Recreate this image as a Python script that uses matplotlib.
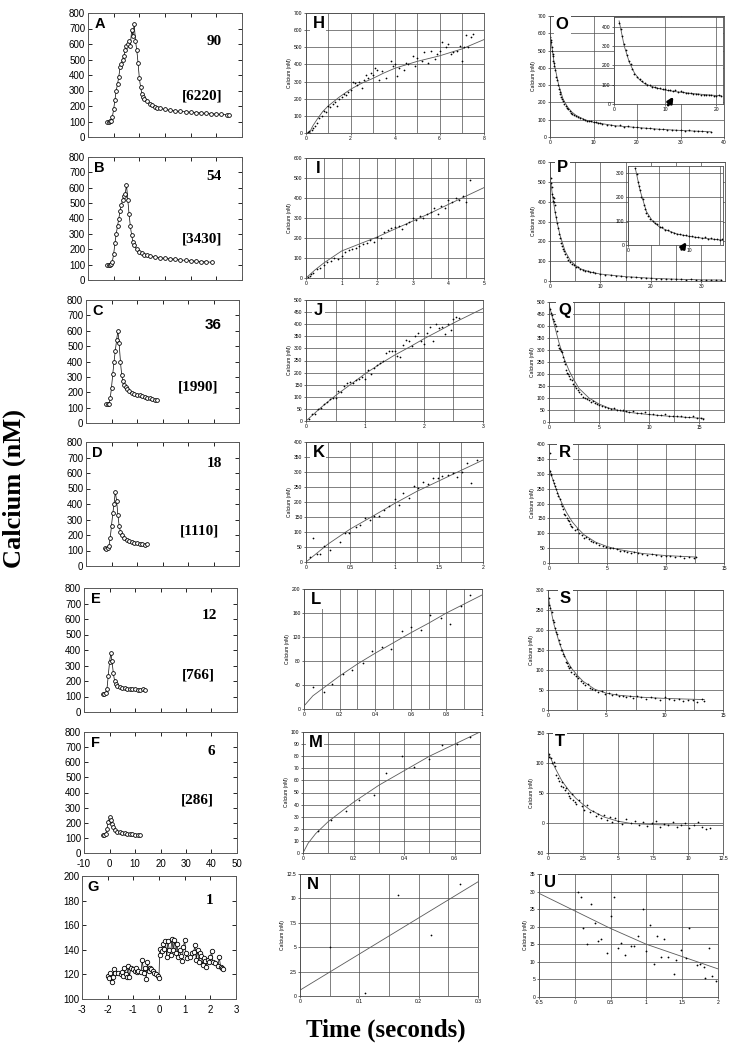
# -*- coding: utf-8 -*-
"""
Figura: transientes de cálcio (A-G), subida (H-N) e decaimento (O-U)
"""

import matplotlib
matplotlib.use('Agg')
import matplotlib.pyplot as plt
from matplotlib.ticker import MultipleLocator, FuncFormatter

plt.rcParams['font.family'] = ['Liberation Sans', 'DejaVu Sans']


##############################################################################
""" Dados - coluna da esquerda (A-G) """
A_x = [-2.5, -2, -1.5, -1, -0.5, 0, 0.5, 1, 1.5, 2, 2.5, 3, 3.5, 4, 4.5, 5, 5.5,
       6, 6.5, 7, 7.5, 8, 8.5, 9, 9.5, 10, 10.5, 11, 11.5, 12, 13, 14, 15, 16,
       17, 18, 20, 22, 24, 26, 28, 30, 32, 34, 36, 38, 40, 42, 44, 45]
A_y = [100, 100, 102, 105, 130, 180, 240, 300, 340, 390, 450, 470, 500, 520,
       560, 590, 600, 620, 590, 690, 650, 730, 620, 560, 480, 380, 320, 280,
       260, 245, 230, 215, 205, 195, 190, 185, 178, 172, 168, 165, 163, 160,
       158, 155, 152, 150, 148, 146, 143, 140]

B_x = [-2.5, -2, -1.5, -1, -0.5, 0, 0.5, 1, 1.5, 2, 2.5, 3, 3.5, 4, 4.5, 5,
       5.5, 6, 6.5, 7, 7.5, 8, 9, 10, 11, 12, 13, 14, 16, 18, 20, 22, 24, 26,
       28, 30, 32, 34, 36, 38.5]
B_y = [100, 98, 100, 105, 120, 170, 240, 300, 350, 400, 450, 490, 520, 545,
       560, 620, 520, 430, 350, 290, 250, 225, 200, 185, 175, 165, 160, 155,
       150, 145, 140, 138, 135, 130, 128, 125, 122, 120, 118, 115]

C_x = [-2, -1.5, -1, -0.5, 0, 0.5, 1, 1.5, 2, 2.5, 3, 3.5, 4, 4.5, 5, 5.5, 6,
       7, 8, 9, 10, 11, 12, 13, 14, 15, 16, 17, 18]
C_y = [125, 122, 125, 160, 230, 320, 400, 470, 540, 600, 520, 400, 310, 270,
       250, 235, 220, 205, 195, 190, 185, 180, 175, 170, 165, 160, 158, 152, 148]

D_x = [-2.5, -2, -1.5, -1, -0.5, 0, 0.5, 1, 1.5, 2, 2.5, 3, 3.5, 4, 5, 6, 7,
       8, 9, 10, 11, 12, 13, 14]
D_y = [115, 112, 115, 130, 180, 260, 340, 400, 480, 420, 330, 260, 220, 200,
       180, 168, 160, 155, 150, 147, 143, 140, 138, 140]

E_x = [-2.5, -2, -1.5, -1, -0.5, 0, 0.5, 1, 1.5, 2, 2.5, 3, 4, 5, 6, 7, 8, 9,
       10, 11, 12, 13, 14]
E_y = [118, 115, 120, 150, 230, 320, 380, 330, 250, 200, 180, 170, 160, 155,
       152, 150, 148, 150, 147, 145, 140, 148, 145]

F_x = [-2.5, -2, -1.5, -1, -0.5, 0, 0.5, 1, 1.5, 2, 3, 4, 5, 6, 7, 8, 9, 10,
       11, 12]
F_y = [120, 118, 125, 160, 205, 235, 215, 190, 170, 155, 142, 136, 132, 130,
       128, 125, 124, 122, 120, 118]

G_x = [-2.0, -1.95, -1.9, -1.85, -1.8, -1.75, -1.7, -1.6, -1.5, -1.45, -1.4,
       -1.35, -1.3, -1.25, -1.2, -1.15, -1.1, -1.0, -0.95, -0.9, -0.85, -0.8,
       -0.7, -0.65, -0.6, -0.55, -0.5, -0.45, -0.4, -0.35, -0.3, -0.25, -0.2,
       -0.1, -0.05, 0.0, 0.02, 0.05, 0.1, 0.15, 0.2, 0.25, 0.3, 0.35, 0.4,
       0.45, 0.5, 0.55, 0.6, 0.65, 0.7, 0.75, 0.8, 0.85, 0.9, 0.95, 1.0, 1.05,
       1.1, 1.2, 1.3, 1.35, 1.4, 1.45, 1.5, 1.55, 1.6, 1.65, 1.7, 1.75, 1.8,
       1.85, 1.9, 1.95, 2.0, 2.05, 2.1, 2.2, 2.3, 2.35, 2.4, 2.45, 2.5]
G_y = [119, 117, 121, 114, 118, 124, 121, 121, 120, 122, 119, 125, 120, 118,
       127, 118, 125, 124, 123, 125, 122, 123, 122, 132, 121, 125, 116, 130,
       123, 125, 124, 123, 121, 120, 119, 117, 136, 141, 139, 145, 141, 147,
       134, 147, 140, 136, 149, 140, 148, 137, 145, 134, 140, 135, 131, 142,
       148, 137, 133, 134, 137, 138, 144, 132, 140, 130, 137, 135, 128, 133,
       131, 126, 132, 130, 134, 139, 130, 129, 127, 134, 126, 125, 124]

# Números de cada painel (frequência e [carga])
rotulos_freq = ['90', '54', '36', '18', '12', '6']
rotulos_carga = ['[6220]', '[3430]', '[1990]', '[1110]', '[766]', '[286]']


##############################################################################
""" Dados - coluna do meio (H-N): subida """
H_x = [0.05, 0.1, 0.15, 0.2, 0.25, 0.3, 0.4, 0.5, 0.6, 0.7, 0.8, 0.9, 1.0,
       1.1, 1.2, 1.3, 1.4, 1.5, 1.6, 1.7, 1.8, 1.9, 2.0, 2.1, 2.2, 2.3, 2.4,
       2.5, 2.6, 2.7, 2.8, 2.9, 3.0, 3.1, 3.2, 3.3, 3.4, 3.6, 3.8, 3.9, 4.0,
       4.1, 4.2, 4.4, 4.5, 4.6, 4.8, 4.9, 5.0, 5.2, 5.3, 5.5, 5.6, 5.8, 5.9,
       6.0, 6.1, 6.3, 6.4, 6.5, 6.6, 6.8, 6.9, 7.0, 7.1, 7.2, 7.3, 7.4, 7.5]
H_y = [0, 5, 10, 0, 20, 30, 40, 60, 85, 100, 130, 120, 160, 150, 170, 180, 160,
       200, 210, 230, 220, 240, 250, 300, 290, 280, 300, 260, 310, 340, 320,
       350, 340, 380, 370, 310, 360, 320, 420, 390, 400, 330, 380, 370, 410,
       400, 450, 390, 440, 420, 470, 410, 480, 430, 460, 480, 530, 500, 520,
       460, 470, 480, 510, 420, 500, 570, 500, 560, 580]
H_fx = [0.15, 0.3, 0.5, 0.75, 1, 1.5, 2, 2.5, 3, 3.5, 4, 5, 6, 7, 8]
H_fy = [0, 40, 80, 125, 158, 210, 255, 290, 318, 350, 378, 418, 450, 490, 545]

I_x = [0.05, 0.1, 0.15, 0.2, 0.3, 0.4, 0.5, 0.6, 0.7, 0.8, 0.9, 1.0, 1.1, 1.2,
       1.3, 1.4, 1.5, 1.6, 1.7, 1.8, 1.9, 2.0, 2.1, 2.2, 2.3, 2.4, 2.5, 2.6,
       2.7, 2.8, 2.9, 3.0, 3.1, 3.2, 3.3, 3.4, 3.5, 3.6, 3.7, 3.8, 3.9, 4.0,
       4.1, 4.2, 4.3, 4.4, 4.5, 4.6]
I_y = [5, 10, 20, 25, 45, 50, 65, 80, 85, 100, 95, 110, 130, 140, 145, 150,
       160, 170, 175, 190, 180, 205, 200, 230, 240, 250, 255, 260, 245, 270,
       280, 300, 290, 310, 300, 320, 330, 350, 320, 360, 350, 390, 380, 400,
       390, 410, 380, 490]
I_fx = [0, 0.25, 0.5, 1, 1.5, 2, 2.5, 3, 3.5, 4, 4.5, 5]
I_fy = [0, 40, 75, 135, 170, 205, 245, 285, 325, 368, 410, 452]

J_x = [0.05, 0.1, 0.15, 0.2, 0.25, 0.3, 0.35, 0.4, 0.45, 0.5, 0.55, 0.6, 0.65,
       0.7, 0.75, 0.8, 0.85, 0.9, 0.95, 1.0, 1.05, 1.1, 1.15, 1.2, 1.25, 1.3,
       1.35, 1.4, 1.45, 1.5, 1.55, 1.6, 1.65, 1.7, 1.75, 1.8, 1.85, 1.9, 1.95,
       2.0, 2.05, 2.1, 2.15, 2.2, 2.25, 2.3, 2.35, 2.4, 2.45, 2.5, 2.55, 2.6]
J_y = [10, 28, 30, 50, 55, 70, 80, 90, 95, 95, 125, 120, 145, 155, 160, 155,
       170, 175, 180, 175, 210, 195, 220, 230, 240, 250, 280, 290, 290, 290,
       270, 265, 315, 335, 330, 310, 350, 365, 330, 320, 365, 390, 330, 400,
       385, 390, 360, 400, 375, 420, 430, 425]
J_fx = [0, 0.25, 0.5, 0.75, 1, 1.25, 1.5, 1.75, 2, 2.25, 2.5, 2.75, 3]
J_fy = [0, 55, 105, 150, 195, 235, 272, 305, 340, 372, 405, 435, 465]

K_x = [0.05, 0.08, 0.12, 0.16, 0.2, 0.27, 0.38, 0.44, 0.49, 0.56, 0.61, 0.67,
       0.72, 0.77, 0.82, 0.88, 0.94, 1.0, 1.05, 1.1, 1.16, 1.22, 1.27, 1.32,
       1.38, 1.43, 1.49, 1.54, 1.6, 1.66, 1.71, 1.76, 1.82, 1.87, 1.93]
K_y = [17, 80, 26, 28, 54, 41, 67, 98, 97, 117, 123, 147, 140, 153, 154, 173,
       186, 209, 190, 229, 212, 255, 246, 266, 260, 281, 281, 287, 290, 296,
       285, 300, 330, 265, 341]
K_fx = [0, 0.25, 0.5, 0.75, 1, 1.25, 1.5, 1.75, 2]
K_fy = [0, 60, 110, 152, 195, 235, 270, 305, 340]

L_x = [0.05, 0.11, 0.16, 0.22, 0.27, 0.33, 0.38, 0.44, 0.49, 0.55, 0.6, 0.66,
       0.71, 0.77, 0.82, 0.88, 0.93]
L_y = [36, 28, 41, 58, 65, 76, 97, 104, 100, 130, 136, 131, 157, 152, 142,
       172, 190]
L_fx = [0, 0.05, 0.1, 0.2, 0.3, 0.4, 0.5, 0.6, 0.7, 0.8, 0.9, 1.0]
L_fy = [5, 22, 33, 55, 75, 93, 110, 127, 143, 160, 175, 190]

M_x = [0.06, 0.11, 0.17, 0.22, 0.28, 0.33, 0.39, 0.44, 0.5, 0.55, 0.61, 0.66]
M_y = [18, 27, 35, 44, 48, 66, 80, 71, 78, 89, 90, 96]
M_fx = [0, 0.02, 0.05, 0.1, 0.2, 0.3, 0.4, 0.5, 0.6, 0.7]
M_fy = [0, 8, 16, 26, 42, 56, 68, 80, 90, 100]

N_x = [0, 0.05, 0.11, 0.165, 0.22, 0.27]
N_y = [0, 5, 0.3, 10.3, 6.2, 11.5]
N_fx = [0, 0.3]
N_fy = [0.6, 11.7]


##############################################################################
""" Dados - coluna da direita (O-U): decaimento """
O_x = [0.1, 0.2, 0.3, 0.4, 0.5, 0.6, 0.7, 0.8, 0.9, 1.0, 1.2, 1.4, 1.6, 1.8,
       2.0, 2.2, 2.4, 2.6, 2.8, 3.0, 3.3, 3.6, 3.9, 4.2, 4.5, 4.8, 5.1, 5.5,
       6.0, 6.5, 7.0, 7.5, 8.0, 8.5, 9.0, 9.5, 10, 10.5, 11, 11.5, 12, 13, 14,
       15, 16, 17, 18, 19, 20, 21, 22, 23, 24, 25, 26, 27, 28, 29, 30, 31, 32,
       33, 34, 35, 36, 37]
O_y = [580, 550, 560, 520, 500, 480, 470, 440, 430, 410, 390, 350, 330, 300,
       280, 260, 250, 230, 220, 210, 190, 180, 165, 160, 150, 140, 135, 128,
       120, 115, 110, 105, 100, 95, 92, 90, 85, 88, 80, 82, 75, 72, 70, 65, 68,
       60, 62, 55, 58, 52, 50, 52, 48, 45, 47, 42, 40, 42, 38, 36, 38, 35, 32,
       35, 30, 28]
O_fx = [0, 1, 2, 3, 4, 5, 6, 8, 10, 15, 20, 25, 30, 37]
O_fy = [600, 420, 300, 220, 175, 145, 125, 100, 85, 65, 55, 45, 38, 30]

# Detalhe (inset) do painel O
Oi_x = [1, 1.3, 1.6, 2, 2.3, 2.6, 3, 3.3, 3.6, 4, 4.5, 5, 5.5, 6, 6.5, 7, 7.5,
        8, 8.5, 9, 9.5, 10, 10.5, 11, 11.5, 12, 12.5, 13, 13.5, 14, 14.5, 15,
        15.5, 16, 16.5, 17, 17.5, 18, 18.5, 19, 19.5, 20, 20.5, 21]
Oi_y = [420, 390, 350, 310, 280, 255, 220, 205, 180, 155, 140, 128, 118, 108,
        100, 96, 90, 88, 82, 84, 76, 78, 72, 74, 68, 70, 64, 66, 60, 58, 55, 58,
        52, 50, 53, 48, 46, 48, 44, 45, 42, 40, 44, 40]
Oi_fx = [1, 2, 3, 4, 5, 6, 8, 10, 12, 15, 18, 21]
Oi_fy = [430, 300, 215, 160, 125, 105, 85, 72, 64, 55, 48, 42]

P_x = [0.1, 0.2, 0.3, 0.4, 0.5, 0.6, 0.7, 0.8, 0.9, 1.0, 1.2, 1.4, 1.6, 1.8,
       2.0, 2.2, 2.4, 2.6, 2.8, 3.0, 3.3, 3.6, 4.0, 4.4, 4.8, 5.2, 5.6, 6.0,
       6.5, 7, 7.5, 8, 8.5, 9, 10, 11, 12, 13, 14, 15, 16, 17, 18, 19, 20, 21,
       22, 23, 24, 25, 26, 27, 28, 29, 30, 31, 32, 33, 34]
P_y = [520, 495, 475, 440, 425, 405, 418, 400, 385, 350, 325, 290, 265, 235,
       215, 190, 178, 160, 152, 135, 122, 108, 98, 88, 82, 72, 70, 60, 57, 52,
       50, 45, 44, 38, 36, 32, 30, 26, 25, 22, 21, 18, 17, 14, 13, 10, 12, 9,
       11, 8, 9, 6, 8, 6, 7, 5, 6, 4, 5]
P_fx = [0, 0.5, 1, 1.5, 2, 3, 4, 5, 6, 8, 10, 15, 20, 25, 30, 34]
P_fy = [530, 430, 350, 285, 230, 150, 105, 80, 62, 45, 35, 22, 14, 9, 6, 5]

# Detalhe (inset) do painel P
Pi_x = [1.2, 1.4, 1.6, 1.8, 2.0, 2.2, 2.4, 2.6, 2.8, 3.0, 3.3, 3.6, 4.0, 4.4,
        4.8, 5.2, 5.6, 6.0, 6.5, 7.0, 7.5, 8.0, 8.5, 9.0, 9.5, 10.0, 10.5, 11,
        11.5, 12, 12.5, 13, 13.5, 14, 14.5, 15, 15.3]
Pi_y = [320, 295, 265, 245, 230, 200, 192, 168, 152, 132, 122, 108, 102, 90,
        86, 76, 74, 64, 62, 54, 52, 47, 46, 41, 42, 37, 38, 33, 35, 29, 32, 27,
        28, 24, 26, 21, 24]
Pi_fx = [1.2, 2, 3, 4, 5, 6, 8, 10, 12, 15.5]
Pi_fy = [320, 225, 140, 100, 78, 65, 46, 36, 29, 20]

Q_x = [0.05, 0.15, 0.25, 0.35, 0.45, 0.55, 0.65, 0.75, 0.85, 0.95, 1.05, 1.15,
       1.25, 1.35, 1.45, 1.55, 1.65, 1.75, 1.85, 1.95, 2.1, 2.25, 2.4, 2.55,
       2.7, 2.85, 3.0, 3.2, 3.4, 3.6, 3.8, 4.0, 4.2, 4.4, 4.6, 4.8, 5.0, 5.3,
       5.6, 5.9, 6.2, 6.5, 6.8, 7.1, 7.4, 7.7, 8.0, 8.4, 8.8, 9.2, 9.6, 10,
       10.4, 10.8, 11.2, 11.6, 12, 12.4, 12.8, 13.2, 13.6, 14, 14.4, 14.8, 15.2,
       15.4]
Q_y = [470, 455, 445, 430, 420, 410, 400, 380, 320, 310, 305, 295, 290, 270,
       255, 240, 215, 205, 200, 190, 180, 175, 160, 150, 140, 135, 125, 115,
       105, 100, 95, 92, 85, 88, 80, 75, 72, 68, 62, 60, 55, 58, 50, 48, 52, 44,
       40, 45, 38, 36, 40, 32, 35, 30, 28, 32, 26, 27, 24, 25, 22, 20, 24, 18,
       15, 14]
Q_fx = [0, 0.5, 1, 1.5, 2, 2.5, 3, 4, 5, 6, 7, 8, 10, 12, 15.5]
Q_fy = [490, 410, 330, 265, 215, 175, 140, 100, 75, 58, 48, 40, 31, 24, 15]

R_x = [0.05, 0.1, 0.15, 0.2, 0.3, 0.4, 0.5, 0.6, 0.7, 0.8, 0.9, 1.0, 1.1, 1.2,
       1.3, 1.4, 1.5, 1.6, 1.7, 1.8, 1.9, 2.0, 2.2, 2.4, 2.6, 2.8, 3.0, 3.2,
       3.4, 3.6, 3.8, 4.0, 4.3, 4.6, 4.9, 5.2, 5.5, 5.8, 6.1, 6.4, 6.7, 7.0,
       7.3, 7.6, 8.0, 8.4, 8.8, 9.2, 9.6, 10, 10.4, 10.8, 11.2, 11.6, 12, 12.4,
       12.6]
R_y = [370, 310, 300, 295, 280, 270, 260, 250, 235, 225, 215, 200, 190, 180,
       165, 160, 150, 145, 140, 130, 125, 120, 110, 115, 100, 95, 85, 88, 80,
       75, 70, 66, 62, 58, 55, 52, 50, 46, 42, 40, 38, 35, 36, 32, 30, 28, 30,
       26, 24, 25, 22, 20, 22, 18, 20, 17, 19]
R_fx = [0, 0.5, 1, 1.5, 2, 2.5, 3, 4, 5, 6, 8, 10, 12.6]
R_fy = [320, 260, 210, 170, 138, 115, 95, 70, 55, 45, 32, 25, 20]

S_x = [0.05, 0.1, 0.2, 0.3, 0.4, 0.5, 0.6, 0.7, 0.8, 0.9, 1.0, 1.1, 1.2, 1.3,
       1.4, 1.5, 1.6, 1.7, 1.8, 1.9, 2.0, 2.2, 2.4, 2.6, 2.8, 3.0, 3.2, 3.4,
       3.6, 3.8, 4.0, 4.3, 4.6, 4.9, 5.2, 5.5, 5.8, 6.1, 6.4, 6.7, 7.0, 7.3,
       7.6, 8.0, 8.4, 8.8, 9.2, 9.6, 10, 10.4, 10.8, 11.2, 11.6, 12, 12.4, 12.8,
       13.2, 13.4]
S_y = [280, 262, 255, 245, 225, 220, 205, 195, 190, 175, 165, 150, 150, 140,
       135, 120, 118, 110, 105, 108, 95, 90, 85, 80, 72, 68, 62, 65, 55, 52, 50,
       45, 48, 40, 42, 38, 40, 35, 36, 32, 34, 30, 35, 32, 28, 33, 30, 26, 32,
       28, 25, 28, 22, 26, 24, 20, 27, 23]
S_fx = [0, 0.5, 1, 1.5, 2, 2.5, 3, 4, 5, 6, 8, 10, 13.4]
S_fy = [285, 215, 165, 130, 105, 87, 72, 52, 42, 37, 32, 29, 26]

T_x = [0.05, 0.1, 0.2, 0.3, 0.4, 0.5, 0.6, 0.7, 0.8, 0.9, 1.0, 1.1, 1.2, 1.3,
       1.4, 1.5, 1.6, 1.7, 1.8, 1.9, 2.0, 2.2, 2.4, 2.6, 2.8, 3.0, 3.2, 3.4,
       3.6, 3.8, 4.0, 4.2, 4.4, 4.6, 4.8, 5.0, 5.3, 5.6, 5.9, 6.2, 6.5, 6.8,
       7.1, 7.4, 7.7, 8.0, 8.3, 8.6, 8.9, 9.2, 9.5, 9.8, 10.1, 10.4, 10.7, 11.0,
       11.3, 11.6]
T_y = [115, 110, 108, 100, 102, 95, 80, 75, 70, 62, 68, 60, 55, 58, 50, 45, 42,
       48, 38, 35, 32, 38, 28, 22, 30, 18, 20, 12, 15, 8, 14, 5, 10, 2, 8, 3,
       -2, 6, 0, 4, -3, 2, -5, 0, 3, -6, -2, -4, 2, -7, -3, 0, -8, -4, 2, -6,
       -10, -8]
T_fx = [0, 0.5, 1, 1.5, 2, 2.5, 3, 4, 5, 6, 8, 10, 12.5]
T_fy = [118, 92, 70, 54, 41, 31, 22, 10, 3, -1, -3, -4, -4]

U_x = [0.05, 0.08, 0.12, 0.17, 0.22, 0.28, 0.33, 0.37, 0.45, 0.5, 0.55, 0.6,
       0.65, 0.7, 0.78, 0.83, 0.88, 0.95, 1.0, 1.05, 1.1, 1.15, 1.2, 1.25, 1.3,
       1.38, 1.42, 1.48, 1.55, 1.6, 1.7, 1.75, 1.8, 1.82, 1.87, 1.92, 1.97]
U_y = [30, 28.5, 19.5, 15, 26.5, 21, 16, 16.5, 12.5, 23, 28.5, 14, 15.5, 12,
       14.5, 14.5, 17.5, 25, 13, 20.5, 9.5, 17.5, 11.5, 16.5, 11.5, 6.5, 10.5,
       13.5, 11, 19.5, 9, 9.5, 8.5, 5.5, 14, 6, 4.5]
U_fx = [-0.5, 0, 0.5, 1, 1.5, 2]
U_fy = [29.5, 24.5, 19.5, 15, 11.5, 8]


##############################################################################
""" Funções auxiliares """
W, H = 738, 1043
fig = plt.figure(figsize=(W / 100, H / 100), dpi=100)
serif = ['Liberation Serif', 'DejaVu Serif']
fmt = FuncFormatter(lambda v, p: '{:g}'.format(round(v, 6)))


def eixo(l, t, r, b):
    # Cria eixo a partir de coordenadas em pixels (esquerda, topo, direita, base)
    return fig.add_axes([l / W, 1 - b / H, (r - l) / W, (b - t) / H])


def painel_esq(caixa, x, y, letra, freq, carga, pos_freq, pos_carga,
               xlim=(-10, 50), ylim=(0, 800), passo_x=10, passo_y=100,
               rotulo_x=False, freq_sans=False, ms=2.7):
    ax = eixo(*caixa)
    ax.plot(x, y, '-o', color='k', lw=0.5, ms=ms, mfc='white', mew=0.6)
    ax.set_xlim(xlim)
    ax.set_ylim(ylim)
    ax.xaxis.set_major_locator(MultipleLocator(passo_x))
    ax.yaxis.set_major_locator(MultipleLocator(passo_y))
    ax.xaxis.set_major_formatter(fmt)
    ax.tick_params(direction='in', top=True, right=True, length=3, width=0.6,
                   labelsize=7, pad=2, labelbottom=rotulo_x)
    ax.tick_params(axis='x', pad=4)
    for s in ax.spines.values():
        s.set_linewidth(0.7)
        s.set_color('0.35')
    ax.text(0.075, 0.91, letra, transform=ax.transAxes, fontsize=10.5,
            fontweight='bold', ha='center', va='center')
    if freq_sans:
        ax.text(*pos_freq, freq, transform=ax.transAxes, fontsize=11,
                fontweight='bold', ha='center', va='center')
    else:
        ax.text(*pos_freq, freq, transform=ax.transAxes, fontsize=11,
                fontweight='bold', ha='center', va='center', family=serif)
    if carga:
        ax.text(*pos_carga, carga, transform=ax.transAxes, fontsize=11,
                fontweight='bold', ha='center', va='center', family=serif)
    return ax


def painel_dir(caixa, x, y, fx, fy, letra, xlim, ylim, passo_x, passo_y,
               grade_x, grade_y, ms=2.5, pos_letra=(0.07, 0.91), ylabel=True):
    ax = eixo(*caixa)
    ax.set_xlim(xlim)
    ax.set_ylim(ylim)
    ax.xaxis.set_major_locator(MultipleLocator(passo_x))
    ax.xaxis.set_minor_locator(MultipleLocator(grade_x))
    ax.yaxis.set_major_locator(MultipleLocator(passo_y))
    ax.yaxis.set_minor_locator(MultipleLocator(grade_y))
    ax.xaxis.set_major_formatter(fmt)
    ax.yaxis.set_major_formatter(fmt)
    ax.grid(which='both', color='0.3', lw=0.5)
    ax.set_axisbelow(True)
    ax.tick_params(which='major', direction='out', length=1.5, width=0.4,
                   labelsize=3.6, pad=1)
    ax.tick_params(which='minor', length=0)
    for s in ax.spines.values():
        s.set_linewidth(0.6)
        s.set_color('0.3')
    ax.plot(fx, fy, color='0.35', lw=0.6)
    ax.plot(x, y, '.', color='k', ms=ms, mew=0)
    if ylabel:
        ax.set_ylabel('Calcium (nM)', fontsize=3.6, labelpad=1.5)
    if letra:
        ax.text(*pos_letra, letra, transform=ax.transAxes, fontsize=12,
                fontweight='bold', ha='center', va='center',
                bbox=dict(fc='white', ec='none', pad=1.5))
    return ax


##############################################################################
""" Coluna da esquerda """
painel_esq((88, 13, 242, 137), A_x, A_y, 'A', rotulos_freq[0], rotulos_carga[0],
           (0.82, 0.77), (0.74, 0.33))
painel_esq((88, 157, 242, 280), B_x, B_y, 'B', rotulos_freq[1], rotulos_carga[1],
           (0.815, 0.84), (0.74, 0.33))
painel_esq((86, 300, 239, 423), C_x, C_y, 'C', rotulos_freq[2], rotulos_carga[2],
           (0.83, 0.80), (0.73, 0.295), freq_sans=True)
painel_esq((86, 442, 239, 566), D_x, D_y, 'D', rotulos_freq[3], rotulos_carga[3],
           (0.84, 0.83), (0.745, 0.28))
painel_esq((84, 588, 237, 712), E_x, E_y, 'E', rotulos_freq[4], rotulos_carga[4],
           (0.82, 0.78), (0.745, 0.30))
painel_esq((84, 732, 237, 853), F_x, F_y, 'F', rotulos_freq[5], rotulos_carga[5],
           (0.83, 0.84), (0.74, 0.44), rotulo_x=True)
painel_esq((82, 876, 236, 999), G_x, G_y, 'G', '1', None, (0.83, 0.80), None,
           xlim=(-3, 3), ylim=(100, 200), passo_x=1, passo_y=20, rotulo_x=True,
           ms=3.2)


""" Coluna do meio """
painel_dir((306, 13, 484, 133), H_x, H_y, H_fx, H_fy, 'H', (0, 8), (0, 700),
           2, 100, 1, 100)
painel_dir((306, 158, 484, 278), I_x, I_y, I_fx, I_fy, 'I', (0, 5), (0, 600),
           1, 100, 0.5, 100)
painel_dir((306, 300, 483, 421), J_x, J_y, J_fx, J_fy, 'J', (0, 3), (0, 500),
           1, 50, 0.5, 50)
painel_dir((306, 442, 483, 562), K_x, K_y, K_fx, K_fy, 'K', (0, 2), (0, 400),
           0.5, 50, 0.25, 50)
painel_dir((304, 589, 482, 709), L_x, L_y, L_fx, L_fy, 'L', (0, 1), (0, 200),
           0.2, 40, 0.1, 40)
painel_dir((303, 732, 480, 853), M_x, M_y, M_fx, M_fy, 'M', (0, 0.7), (0, 100),
           0.2, 10, 0.1, 10)
painel_dir((300, 874, 478, 996), N_x, N_y, N_fx, N_fy, 'N', (0, 0.3), (0, 12.5),
           0.1, 2.5, 0.05, 2.5)


""" Coluna da direita """
painel_dir((550, 16, 724, 137), O_x, O_y, O_fx, O_fy, 'O', (0, 40), (0, 700),
           10, 100, 10, 100, ms=2.6, pos_letra=(0.07, 0.93))
ax_o = painel_dir((614, 17, 723, 104), Oi_x, Oi_y, Oi_fx, Oi_fy, None,
                  (0, 21.3), (0, 450), 10, 100, 10, 100, ms=2.6, ylabel=False)
ax_o.patch.set_facecolor('white')
ax_o.annotate('', xy=(11.9, 50), xytext=(10.3, -18), annotation_clip=False,
              arrowprops=dict(arrowstyle='-|>', color='k', lw=2.0,
                              mutation_scale=8))

painel_dir((550, 162, 725, 281), P_x, P_y, P_fx, P_fy, 'P', (0, 34.7), (0, 600),
           10, 100, 5, 100, ms=2.6, pos_letra=(0.07, 0.95))
ax_p = painel_dir((628, 166, 723, 245), Pi_x, Pi_y, Pi_fx, Pi_fy, None,
                  (0, 15.5), (0, 330), 10, 100, 5, 100, ms=2.6, ylabel=False)
ax_p.patch.set_facecolor('white')
ax_p.annotate('', xy=(9.8, 22), xytext=(8.5, -28), annotation_clip=False,
              arrowprops=dict(arrowstyle='-|>', color='k', lw=2.0,
                              mutation_scale=8))

painel_dir((549, 302, 724, 422), Q_x, Q_y, Q_fx, Q_fy, 'Q', (0, 17.5), (0, 500),
           5, 50, 2.5, 50, pos_letra=(0.09, 0.93))
painel_dir((549, 444, 724, 563), R_x, R_y, R_fx, R_fy, 'R', (0, 15), (0, 400),
           5, 50, 2.5, 50, pos_letra=(0.09, 0.93))
painel_dir((548, 590, 723, 710), S_x, S_y, S_fx, S_fy, 'S', (0, 15), (0, 300),
           5, 50, 2.5, 50, pos_letra=(0.1, 0.93))
painel_dir((548, 733, 723, 853), T_x, T_y, T_fx, T_fy, 'T', (0, 12.5),
           (-50, 150), 2.5, 50, 2.5, 50, pos_letra=(0.07, 0.93))
painel_dir((539, 874, 718, 997), U_x, U_y, U_fx, U_fy, 'U', (-0.5, 2), (0, 35),
           0.5, 5, 0.5, 5, ms=2.6, pos_letra=(0.06, 0.93))


""" Rótulos gerais """
fig.text(14 / W, 1 - 489 / H, 'Calcium (nM)', rotation=90, fontsize=19,
         fontweight='bold', ha='center', va='center', family=serif)
fig.text(386 / W, 1 - 1030 / H, 'Time (seconds)', fontsize=18,
         fontweight='bold', ha='center', va='center', family=serif)

fig.savefig('out.png', dpi=100)
